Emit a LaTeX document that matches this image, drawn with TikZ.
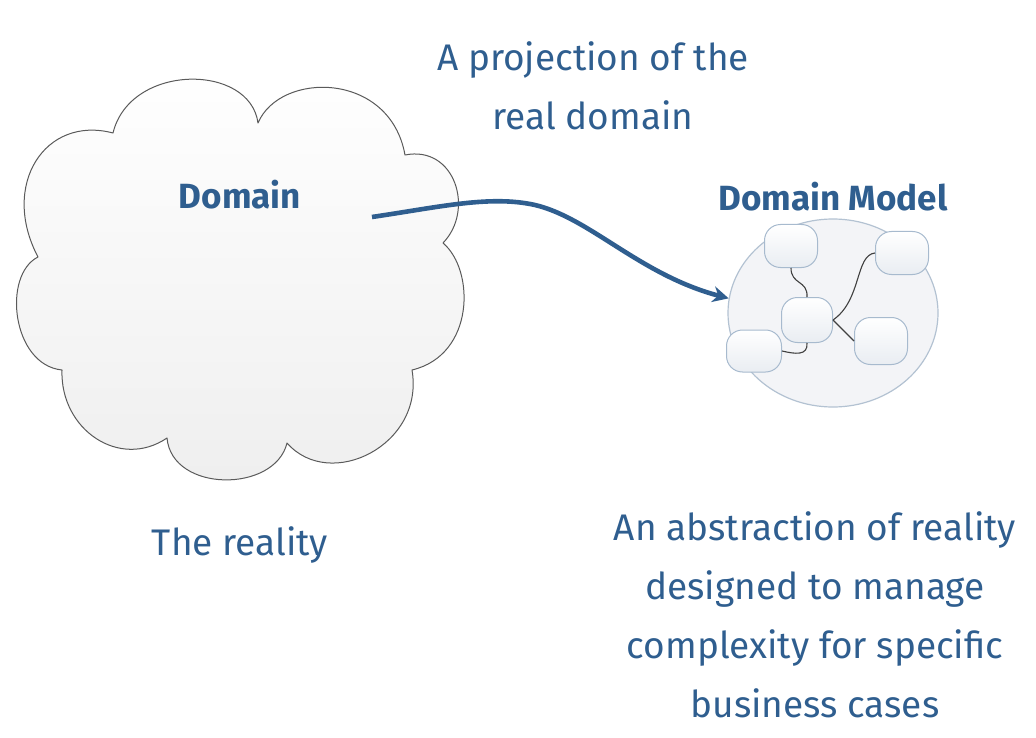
\documentclass[tikz,border=0pt]{standalone}
\usepackage{fontspec}
\setmainfont{Fira Sans}
\usetikzlibrary{shapes.geometric,arrows.meta}
\definecolor{ink}{HTML}{2F5E8F}
\definecolor{cloudedge}{HTML}{5A5A5A}
\definecolor{dmedge}{HTML}{B3C2D2}
\definecolor{dmfill}{HTML}{F3F4F7}
\definecolor{boxedge}{HTML}{A7BACE}
\definecolor{boxfill}{HTML}{E9EDF2}
\tikzset{
  lbl/.style={text=ink, align=center, font=\fontsize{37}{59}\selectfont},
  title/.style={text=ink, font=\fontsize{35}{40}\selectfont\bfseries},
  mbox/.style={draw=boxedge, line width=1pt, rounded corners=16pt, minimum width=53pt, minimum height=43pt, top color=white, bottom color=boxfill, inner sep=0pt},
  link/.style={draw=black!75, line width=1.1pt},
}
\begin{document}
\begin{tikzpicture}[x=1pt,y=-1pt]
\useasboundingbox (0,0) rectangle (1036,738);
% cloud
\path[draw=cloudedge, line width=1pt, top color=white, bottom color=gray!13, line join=round]
  (258,123) .. controls (250,63) and (130,63) .. (113,133)
  .. controls (45,115) and (0,185) .. (38,257)
  .. controls (2,275) and (12,365) .. (62,370)
  .. controls (60,430) and (120,470) .. (167,438)
  .. controls (172,493) and (275,493) .. (287,443)
  .. controls (330,492) and (425,445) .. (412,370)
  .. controls (475,355) and (475,270) .. (443,243)
  .. controls (475,210) and (455,145) .. (405,155)
  .. controls (390,71) and (280,71) .. (258,123) -- cycle;
\node[title] (dom) at (240,195) {Domain};
\node[lbl] (real) at (240,545) {The reality};
\coordinate (start) at (372,217);
% domain model
\node[ellipse, draw=dmedge, line width=1.2pt, fill=dmfill, minimum width=210pt, minimum height=188pt] (dm) at (833,313) {};
\node[title] (dmt) at (833,197) {Domain Model};
\node[mbox] (b1) at (791,246) {};
\node[mbox] (b2) at (902,253) {};
\node[mbox, minimum width=51pt, minimum height=45pt] (b3) at (807,320) {};
\node[mbox, minimum width=55pt, minimum height=42pt] (b4) at (754,351) {};
\node[mbox, minimum height=47pt] (b5) at (881,341) {};
\draw[link] (b1.south) .. controls (791,285) and (808,280) .. (b3.north);
\draw[link] (b2.west) .. controls (855,255) and (862,300) .. (b3.east);
\draw[link] (b3.east) -- (b5.west);
\draw[link] (b3.south) .. controls (808,356) and (795,354) .. (b4.east);
% arrow
\draw[ink, line width=4.6pt, -{Stealth[length=16pt,width=16pt]}]
  (start) .. controls (440,207) and (490,195) .. (535,205)
  .. controls (590,218) and (640,275) .. (dm.172);
\node[lbl] (proj) at (593,86) {A projection of the\\real domain};
\node[lbl] (abs) at (815,615) {An abstraction of reality\\designed to manage\\complexity for specific\\business cases};
\end{tikzpicture}
\end{document}
